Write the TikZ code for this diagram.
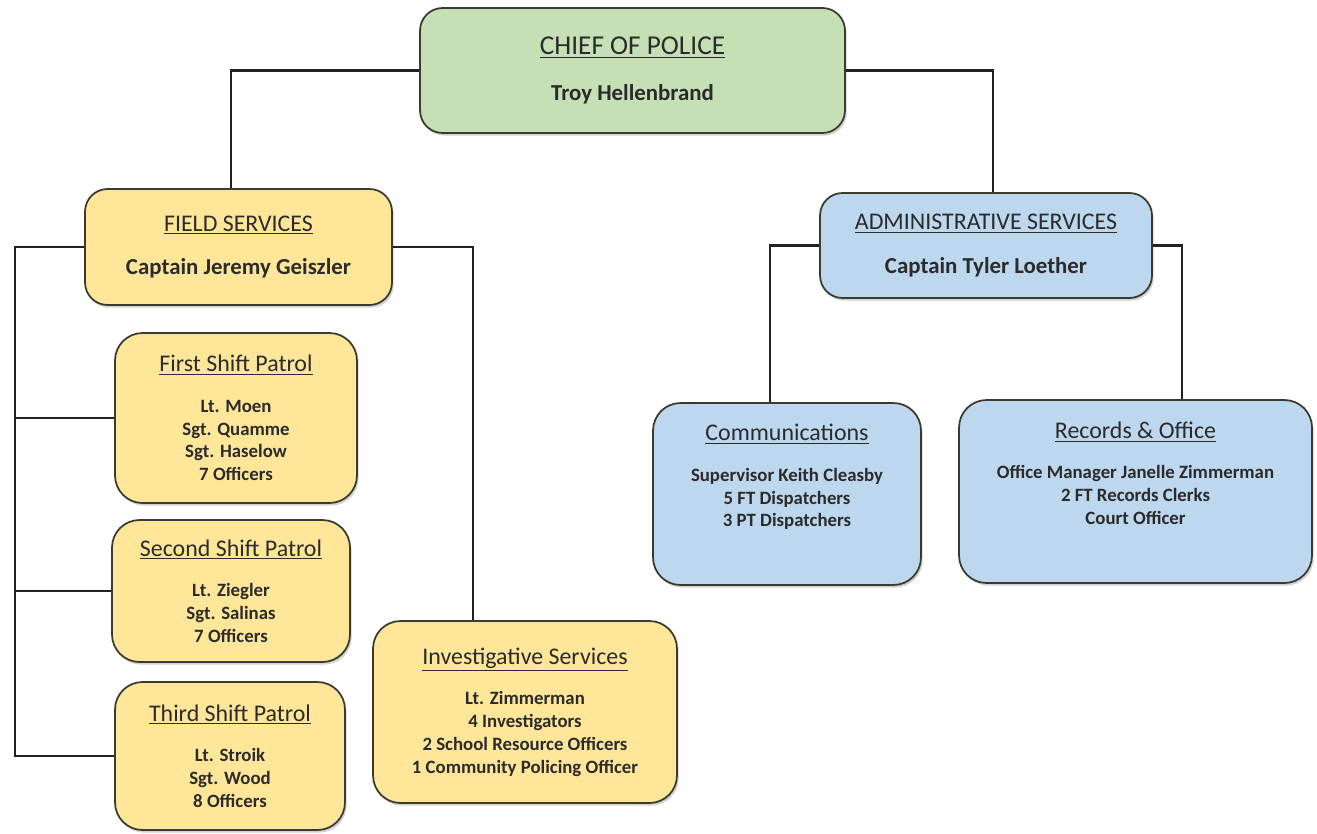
\documentclass[tikz,border=0pt]{standalone}
\usepackage{fontspec}
\setmainfont{Carlito}
\usepackage{xcolor}
\usepackage{tikz}
\usetikzlibrary{shadows}

\definecolor{chiefgreen}{HTML}{C5E0B4}
\definecolor{fieldyellow}{HTML}{FFE699}
\definecolor{adminblue}{HTML}{BDD7EE}
\definecolor{boxline}{HTML}{3A3A30}
\definecolor{linkcol}{HTML}{222222}
\definecolor{txt}{HTML}{2B2B2B}

\newcommand{\unittitle}[1]{{\fontsize{13.6}{16}\selectfont\mdseries\underline{#1}}}
\newcommand{\headname}{\fontsize{13}{16}\selectfont\bfseries}
\newcommand{\staff}{\fontsize{10.7}{13}\selectfont\bfseries}

\tikzset{
    box/.style={draw=boxline, line width=1pt, rounded corners=0.45cm, align=center,
        text=txt, drop shadow={shadow xshift=1pt, shadow yshift=-1.5pt, opacity=.35}},
    chiefbox/.style={box, fill=chiefgreen, font=\headname},
    fieldbox/.style={box, fill=fieldyellow},
    adminbox/.style={box, fill=adminblue},
    unitbox/.style={rounded corners=0.55cm, font=\staff},
    link/.style={draw=linkcol, line width=1.4pt}
}

\begin{document}
\begin{tikzpicture}[x=0.02cm, y=-0.02cm]
    \useasboundingbox (0,0) rectangle (1317,833);

    % top of the chart
    \node[chiefbox, minimum width=8.5cm, minimum height=2.5cm] (chief) at (632.5,70.5)
        {{\fontsize{15.5}{18}\selectfont\mdseries\underline{CHIEF OF POLICE}}\\[10pt] Troy Hellenbrand};
    \node[fieldbox, font=\headname, minimum width=6.14cm, minimum height=2.32cm] (field) at (238.5,247)
        {\unittitle{FIELD SERVICES}\\[9pt] Captain Jeremy Geiszler};
    \node[adminbox, font=\headname, minimum width=6.64cm, minimum height=2.1cm] (admin) at (986,245.5)
        {\unittitle{ADMINISTRATIVE SERVICES}\\[9pt] Captain Tyler Loether};

    % field services units
    \node[fieldbox, unitbox, minimum width=4.84cm, minimum height=3.4cm] (first) at (236,418)
        {\unittitle{First Shift Patrol}\\[10pt] Lt. Moen\\ Sgt. Quamme\\ Sgt. Haselow\\ 7 Officers};
    \node[fieldbox, unitbox, minimum width=4.76cm, minimum height=2.84cm] (second) at (231,591)
        {\unittitle{Second Shift Patrol}\\[10pt] Lt. Ziegler\\ Sgt. Salinas\\ 7 Officers};
    \node[fieldbox, unitbox, minimum width=4.6cm, minimum height=2.96cm] (third) at (230,756)
        {\unittitle{Third Shift Patrol}\\[10pt] Lt. Stroik\\ Sgt. Wood\\ 8 Officers};
    \node[fieldbox, unitbox, minimum width=6.08cm, minimum height=3.64cm] (invest) at (525,712)
        {\unittitle{Investigative Services}\\[10pt] Lt. Zimmerman\\ 4 Investigators\\
         2 School Resource Officers\\ 1 Community Policing Officer};

    % administrative units
    \node[adminbox, unitbox, minimum width=5.36cm, minimum height=3.64cm] (comms) at (787,494)
        {\unittitle{Communications}\\[10pt] Supervisor Keith Cleasby\\ 5 FT Dispatchers\\
         3 PT Dispatchers\\[8pt] ~};
    \node[adminbox, unitbox, minimum width=7.06cm, minimum height=3.66cm] (records) at (1135.5,491.5)
        {\unittitle{Records \& Office}\\[10pt] Office Manager Janelle Zimmerman\\ 2 FT Records Clerks\\
         Court Officer\\[8pt] ~};

    % connectors
    \coordinate (spine) at (15,0);
    \draw[link] (chief.west) -| ([xshift=-0.15cm]field.north);
    \draw[link] (chief.east) -| ([xshift=0.14cm]admin.north);
    \draw[link] (field.west) -| (spine |- third.west) -- (third.west);
    \draw[link] (first.west) -- (spine |- first.west);
    \draw[link] (second.west) -- (spine |- second.west);
    \draw[link] (field.east) -| ([xshift=-1.04cm]invest.north);
    \draw[link] (admin.west) -| ([xshift=-0.34cm]comms.north);
    \draw[link] (admin.east) -| ([xshift=0.93cm]records.north);
\end{tikzpicture}
\end{document}
